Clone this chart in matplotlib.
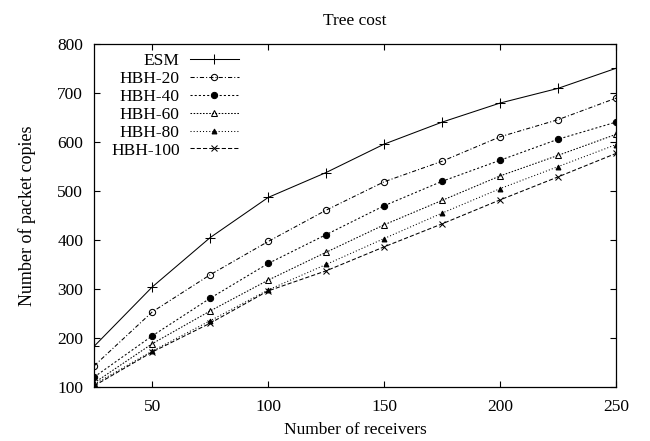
import matplotlib
matplotlib.use("Agg")
from matplotlib import pyplot as plt

plt.rcParams['font.family'] = ['Liberation Serif', 'DejaVu Serif']
plt.rcParams['font.size'] = 12.5

receivers = [25, 50, 75, 100, 125, 150, 175, 200, 225, 250]
esm = [183, 304, 405, 487, 538, 596, 641, 680, 710, 751]
hbh_20 = [143, 253, 329, 397, 461, 519, 561, 611, 646, 690]
hbh_40 = [120, 204, 281, 352, 411, 470, 520, 563, 606, 641]
hbh_60 = [108, 188, 255, 318, 375, 431, 481, 531, 573, 616]
hbh_80 = [105, 173, 235, 298, 350, 403, 455, 505, 550, 595]
hbh_100 = [102, 171, 230, 296, 337, 386, 433, 482, 529, 577]

x_ticks = [50, 100, 150, 200, 250]
y_ticks = [100, 200, 300, 400, 500, 600, 700, 800]

series = [
    ("ESM", esm, dict(linestyle='-', marker='+', ms=6.5, mfc='black')),
    ("HBH-20", hbh_20, dict(linestyle=(0, (4, 2, 1, 2)), marker='o', ms=4.5, mfc='none')),
    ("HBH-40", hbh_40, dict(linestyle=(0, (2, 2)), marker='o', ms=4.5, mfc='black')),
    ("HBH-60", hbh_60, dict(linestyle=(0, (1.5, 1.5)), marker='^', ms=4.5, mfc='none')),
    ("HBH-80", hbh_80, dict(linestyle=(0, (1, 2)), marker='^', ms=3.5, mfc='black')),
    ("HBH-100", hbh_100, dict(linestyle=(0, (4, 2)), marker='x', ms=4.5, mfc='black')),
]

fig = plt.figure(figsize=(6.5, 4.41), dpi=100)
ax = fig.add_axes([0.145, 0.123, 0.8026, 0.7764])

for name, vals, style in series:
    ax.plot(receivers, vals, color='black', lw=0.75, mec='black', mew=0.75, label=name, **style)

ax.set_xlim(25, 250)
ax.set_ylim(100, 800)
ax.set_xticks(x_ticks)
ax.set_yticks(y_ticks)
ax.tick_params(direction='in', top=True, right=True, length=4.5, width=0.8)
ax.tick_params(axis='y', pad=8)
ax.tick_params(axis='x', pad=9)
for s in ax.spines.values():
    s.set_linewidth(0.9)

ax.set_title("Tree cost", fontsize=12.5, pad=14)
ax.set_xlabel("Number of receivers", fontsize=12.5, labelpad=5)
ax.set_ylabel("Number of packet copies", fontsize=13, labelpad=15)

ax.legend(loc='upper right', bbox_to_anchor=(0.277, 0.975), frameon=False,
          markerfirst=False, numpoints=1, handlelength=2.8, handletextpad=0.6,
          labelspacing=0.1, borderpad=0, borderaxespad=0, fontsize=12.5)

fig.savefig("out.png", dpi=100)
